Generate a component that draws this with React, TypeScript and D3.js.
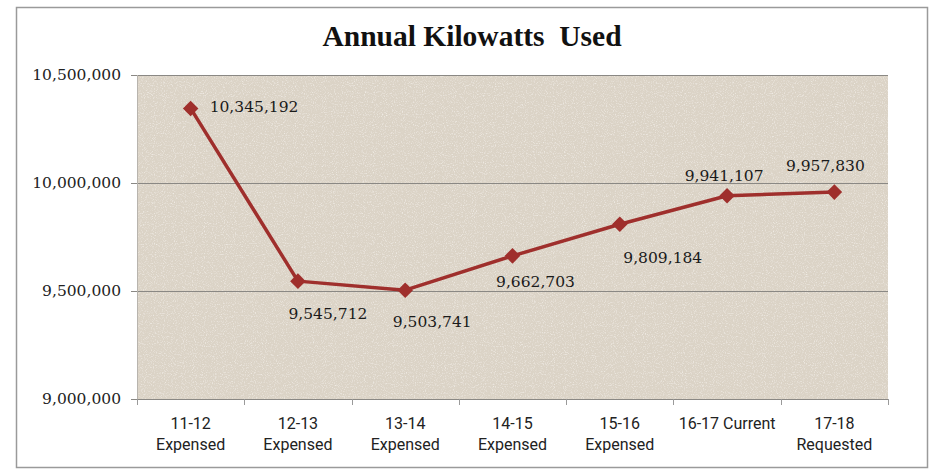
import React from "react";
import * as d3 from "d3";

const categories: string[][] = [
  ["11-12", "Expensed"],
  ["12-13", "Expensed"],
  ["13-14", "Expensed"],
  ["14-15", "Expensed"],
  ["15-16", "Expensed"],
  ["16-17 Current"],
  ["17-18", "Requested"],
];
const kilowatts: number[] = [10345192, 9545712, 9503741, 9662703, 9809184, 9941107, 9957830];
const yTicks: number[] = [9000000, 9500000, 10000000, 10500000];
const title = "Annual Kilowatts  Used";

// label placement (style): offsets from marker, text anchor
const labelOffsets: { dx: number; dy: number; anchor: string }[] = [
  { dx: 19, dy: 4, anchor: "start" },
  { dx: 30, dy: 38, anchor: "middle" },
  { dx: 27, dy: 37, anchor: "middle" },
  { dx: 23, dy: 31, anchor: "middle" },
  { dx: 43, dy: 39, anchor: "middle" },
  { dx: -3, dy: -15, anchor: "middle" },
  { dx: -9, dy: -21, anchor: "middle" },
];

const W = 929;
const H = 469;
const plot = { left: 137, right: 888, top: 75, bottom: 399 };
const lineColor = "#9f2f2c";

export default function App() {
  const x = d3
    .scaleBand<number>()
    .domain(categories.map((_, i) => i))
    .range([plot.left, plot.right])
    .paddingInner(0)
    .paddingOuter(0);
  const y = d3.scaleLinear().domain([9000000, 10500000]).range([plot.bottom, plot.top]);
  const fmt = d3.format(",");
  const cx = (i: number) => (x(i) as number) + x.bandwidth() / 2;

  const line = d3
    .line<number>()
    .x((_, i) => cx(i))
    .y((d) => y(d));

  const boundaries = d3.range(categories.length + 1).map((i) =>
    i < categories.length ? (x(i) as number) : plot.right
  );

  return (
    <svg
      width={W}
      height={H}
      style={{ position: "absolute", left: 0, top: 0, background: "#ffffff" }}
    >
      <defs>
        <filter id="paper" x="0" y="0" width="100%" height="100%">
          <feTurbulence type="fractalNoise" baseFrequency="0.9" numOctaves="2" seed="3" result="noise" />
          <feColorMatrix
            in="noise"
            type="matrix"
            values="0 0 0 0 0.95  0 0 0 0 0.93  0 0 0 0 0.9  0 0 0 -1.6 0.8"
            result="speck"
          />
          <feComposite in="speck" in2="SourceGraphic" operator="in" result="clip" />
          <feMerge>
            <feMergeNode in="SourceGraphic" />
            <feMergeNode in="clip" />
          </feMerge>
        </filter>
      </defs>

      {/* outer chart border */}
      <rect x={16.5} y={7.5} width={911} height={460} fill="#ffffff" stroke="#9a9a9a" strokeWidth={1.5} />

      {/* title */}
      <text
        x={472}
        y={46}
        textAnchor="middle"
        style={{ whiteSpace: "pre" }}
        fontFamily="'Liberation Serif', 'DejaVu Serif', serif"
        fontWeight="bold"
        fontSize={29.5}
        fill="#111"
      >
        {title}
      </text>

      {/* plot area */}
      <rect
        x={plot.left}
        y={plot.top}
        width={plot.right - plot.left}
        height={plot.bottom - plot.top}
        fill="#dbd3c6"
        filter="url(#paper)"
      />

      {/* gridlines */}
      {yTicks.map((t) => (
        <line
          key={t}
          x1={plot.left - 6}
          x2={plot.right}
          y1={Math.round(y(t)) + 0.5}
          y2={Math.round(y(t)) + 0.5}
          stroke="#8a8884"
          strokeWidth={1}
        />
      ))}
      {/* left axis line */}
      <line x1={plot.left + 0.5} x2={plot.left + 0.5} y1={plot.top} y2={plot.bottom} stroke="#b8b4ae" strokeWidth={1} />

      {/* x axis ticks */}
      {boundaries.map((bx, i) => (
        <line
          key={i}
          x1={Math.round(bx) + 0.5}
          x2={Math.round(bx) + 0.5}
          y1={plot.bottom}
          y2={plot.bottom + 6}
          stroke="#9a9a9a"
          strokeWidth={1}
        />
      ))}

      {/* y tick labels */}
      {yTicks.map((t) => (
        <text
          key={"l" + t}
          x={121}
          y={y(t) + 5}
          textAnchor="end"
          fontFamily="'DejaVu Serif', serif"
          fontSize={15.5}
          fill="#222"
        >
          {fmt(t)}
        </text>
      ))}

      {/* x labels */}
      {categories.map((lines, i) => (
        <text
          key={"x" + i}
          x={cx(i)}
          y={429}
          textAnchor="middle"
          fontFamily="Roboto, 'Liberation Sans', sans-serif"
          fontSize={16}
          fill="#222"
        >
          {lines.map((ln, j) => (
            <tspan key={j} x={cx(i)} dy={j === 0 ? 0 : 21}>
              {ln}
            </tspan>
          ))}
        </text>
      ))}

      {/* series line */}
      <path d={line(kilowatts) || ""} fill="none" stroke={lineColor} strokeWidth={3.5} strokeLinejoin="round" />

      {/* markers */}
      {kilowatts.map((v, i) => (
        <rect
          key={"m" + i}
          x={cx(i) - 5.5}
          y={y(v) - 5.5}
          width={11}
          height={11}
          fill={lineColor}
          transform={`rotate(45 ${cx(i)} ${y(v)})`}
        />
      ))}

      {/* data labels */}
      {kilowatts.map((v, i) => (
        <text
          key={"d" + i}
          x={cx(i) + labelOffsets[i].dx}
          y={y(v) + labelOffsets[i].dy}
          textAnchor={labelOffsets[i].anchor as any}
          fontFamily="'DejaVu Serif', serif"
          fontSize={15.5}
          fill="#1a1a1a"
        >
          {fmt(v)}
        </text>
      ))}
    </svg>
  );
}
